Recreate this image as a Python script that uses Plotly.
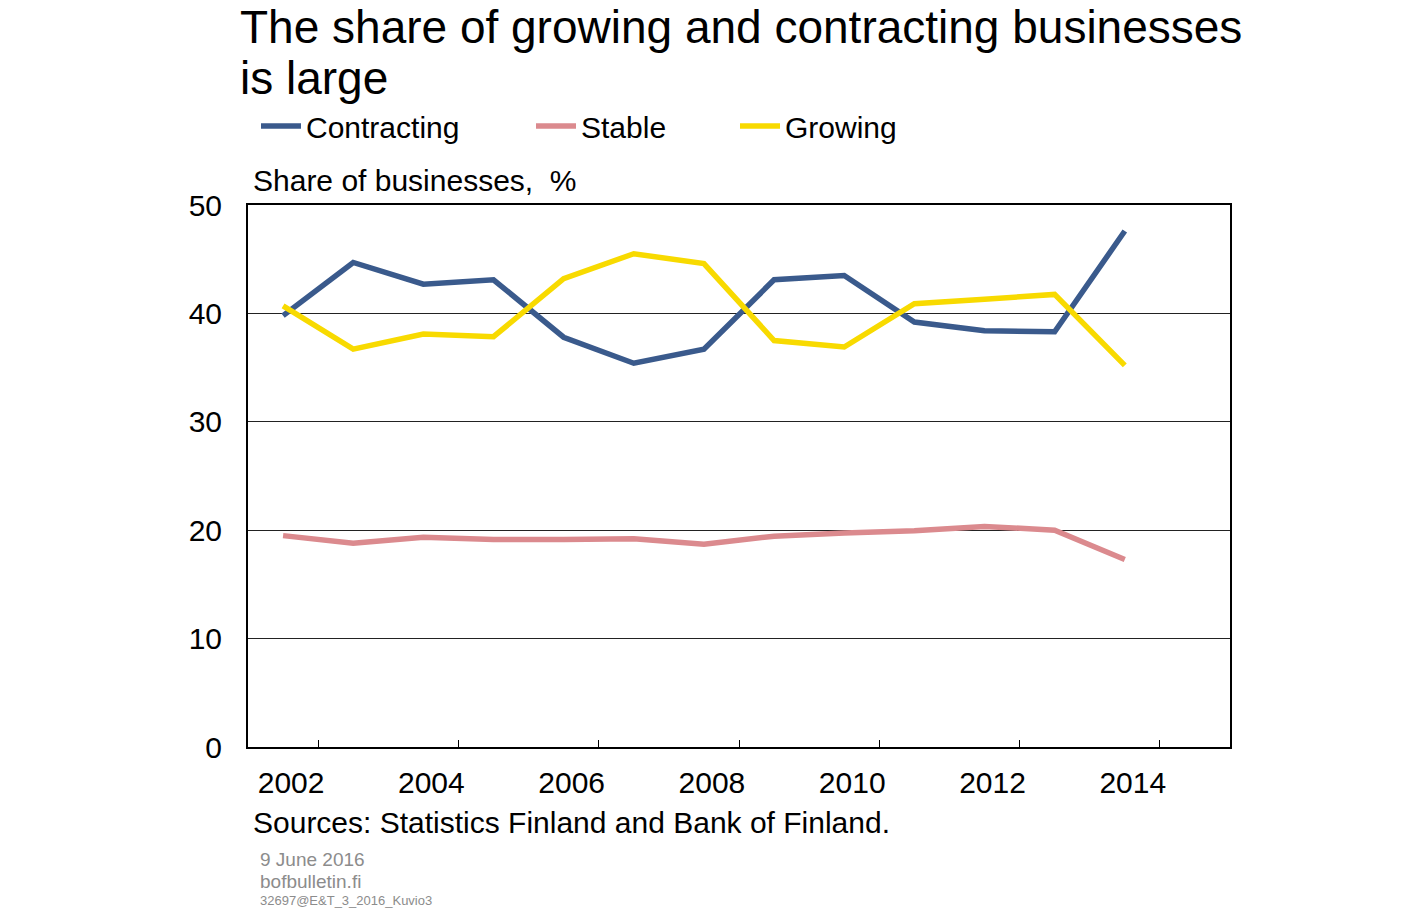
import plotly.graph_objects as go

years = [2002, 2003, 2004, 2005, 2006, 2007, 2008, 2009, 2010, 2011, 2012, 2013, 2014]
contracting = [39.8, 44.7, 42.7, 43.1, 37.8, 35.4, 36.7, 43.1, 43.5, 39.2, 38.4, 38.3, 47.6]
stable = [19.5, 18.8, 19.35, 19.15, 19.15, 19.2, 18.7, 19.45, 19.75, 19.95, 20.35, 20.0, 17.3]
growing = [40.7, 36.7, 38.1, 37.85, 43.2, 45.5, 44.6, 37.5, 36.9, 40.9, 41.3, 41.75, 35.2]

x_label_years = [2002, 2004, 2006, 2008, 2010, 2012, 2014]
y_ticks = [0, 10, 20, 30, 40, 50]

# page body has an 8px margin; figure sized to fit the window
OFF = 8
W, H = 1407 - OFF, 920 - OFF
L, R, T, B = 248, 1230, 205, 747   # plot area in window pixels
FONT = "Liberation Sans, Arial, sans-serif"

def px(x):
    return (x - L) / (R - L)

def py(y):
    return (B - y) / (B - T)

def cx(x):
    return (x - OFF) / W

def cy(y):
    return 1 - (y - OFF) / H

fig = go.Figure()
series = [
    ("Contracting", contracting, "#3a5a8c", "legend"),
    ("Stable", stable, "#db8a8e", "legend2"),
    ("Growing", growing, "#f8da00", "legend3"),
]
for name, vals, col, lg in series:
    fig.add_trace(go.Scatter(x=years, y=vals, name=name, mode="lines", showlegend=True,
                             line=dict(color=col, width=5.5), legend=lg))

legend_common = dict(orientation="h", xref="container", yref="container",
                     yanchor="middle", xanchor="left", y=cy(126),
                     font=dict(family=FONT, size=30, color="black"),
                     itemwidth=40, bgcolor="rgba(0,0,0,0)", borderwidth=0)

fig.update_layout(
    width=W, height=H, showlegend=True,
    margin=dict(l=L - OFF, r=W - (R - OFF), t=T - OFF, b=H - (B - OFF)),
    paper_bgcolor="white", plot_bgcolor="white",
    font=dict(family=FONT, size=30, color="black"),
    legend=dict(x=cx(256), **legend_common),
    legend2=dict(x=cx(531), **legend_common),
    legend3=dict(x=cx(735), **legend_common),
    xaxis=dict(range=[2001.5, 2015.5], tickmode="array", tickvals=x_label_years,
               ticktext=[str(v) for v in x_label_years], ticks="", showgrid=False,
               showline=True, linecolor="black", linewidth=2, mirror=True,
               zeroline=False, ticklabelstandoff=8, ticklabelshift=8,
               tickfont=dict(size=30),
               minor=dict(tickmode="array", tickvals=[v + 0.5 for v in x_label_years],
                          ticks="inside", ticklen=7, tickcolor="black", tickwidth=1,
                          showgrid=False)),
    xaxis2=dict(range=[2001.5, 2015.5], overlaying="x", anchor="y", side="bottom",
                tickmode="array", tickvals=[v + 1.5 for v in x_label_years[:-1]],
                showticklabels=False, ticks="", showgrid=True,
                gridcolor="#222", gridwidth=1, zeroline=False, showline=False),
    yaxis=dict(range=[0, 50], tickmode="array", tickvals=y_ticks, ticks="",
               showgrid=True, gridcolor="#222", gridwidth=1, zeroline=False,
               showline=True, linecolor="black", linewidth=2, mirror=True,
               ticklabelstandoff=18, tickfont=dict(size=30)),
)

annotations = [
    dict(text="The share of growing and contracting businesses", x=px(238), y=py(27),
         size=46, color="black"),
    dict(text="is large", x=px(238), y=py(78), size=46, color="black"),
    dict(text="Share of businesses,  %", x=px(251), y=py(181), size=30, color="black"),
    dict(text="Sources: Statistics Finland and Bank of Finland.", x=px(251), y=py(822),
         size=30, color="black"),
    dict(text="9 June 2016", x=px(258), y=py(859), size=19, color="#8c8c8c"),
    dict(text="bofbulletin.fi", x=px(258), y=py(881), size=19, color="#8c8c8c"),
    dict(text="32697@E&T_3_2016_Kuvio3", x=px(258), y=py(900), size=13, color="#8c8c8c"),
]
for a in annotations:
    fig.add_annotation(text=a["text"], x=a["x"], y=a["y"], xref="paper", yref="paper",
                       xanchor="left", yanchor="middle", showarrow=False,
                       font=dict(family=FONT, size=a["size"], color=a["color"]))

fig.write_html("out.html")
